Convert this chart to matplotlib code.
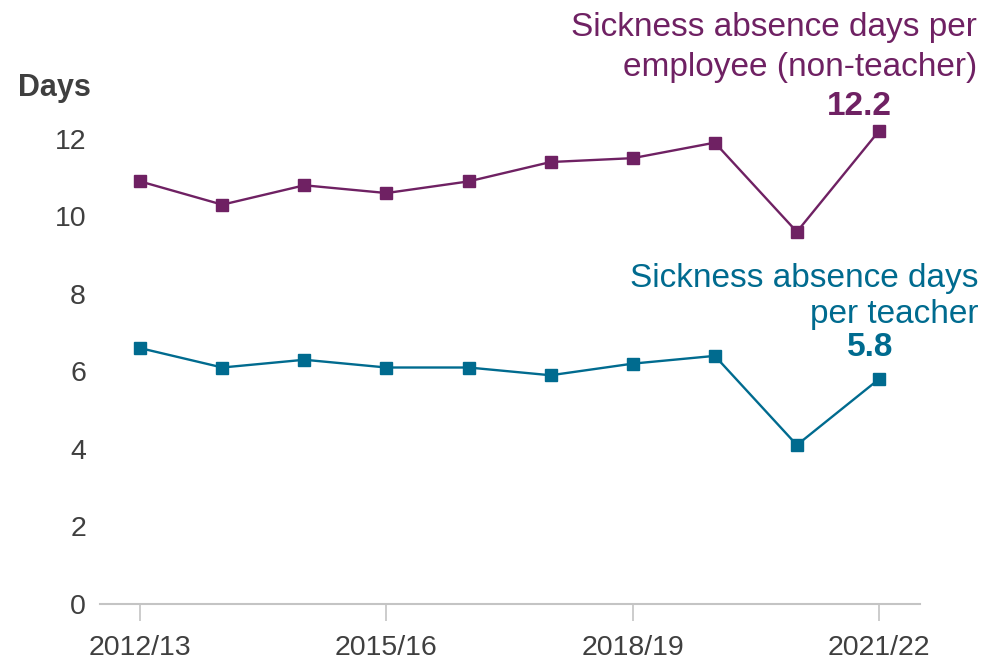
import numpy as np
from matplotlib import pyplot as plt

years = ['2012/13', '2013/14', '2014/15', '2015/16', '2016/17',
         '2017/18', '2018/19', '2019/20', '2020/21', '2021/22']
non_teacher = [10.9, 10.3, 10.8, 10.6, 10.9, 11.4, 11.5, 11.9, 9.6, 12.2]
teacher = [6.6, 6.1, 6.3, 6.1, 6.1, 5.9, 6.2, 6.4, 4.1, 5.8]
yticks = [0, 2, 4, 6, 8, 10, 12]
shown_years = [0, 3, 6, 9]

purple = '#6f2163'
teal = '#006b8f'
grey = '#3f3f3f'

plt.rcParams['font.family'] = ['Liberation Sans', 'DejaVu Sans']

W, H = 999, 664
fig = plt.figure(figsize=(W / 100, H / 100), dpi=100)
ax = fig.add_axes([100 / W, (H - 604) / H, 820 / W, 504 / H])

x = np.arange(len(years))
ax.plot(x, non_teacher, color=purple, lw=1.7, marker='s', ms=8, clip_on=False)
ax.plot(x, teacher, color=teal, lw=1.7, marker='s', ms=8, clip_on=False)

ax.set_xlim(-0.49, 9.5)
ax.set_ylim(0, 13)
ax.set_yticks(yticks)
ax.set_xticks(shown_years)
ax.set_xticklabels([years[i] for i in shown_years])
ax.tick_params(axis='y', length=0, pad=10, labelsize=20.5, labelcolor=grey)
ax.tick_params(axis='x', length=12, width=1.2, color='#c4c4c4', pad=10,
               labelsize=20.5, labelcolor=grey)
for s in ['top', 'right', 'left']:
    ax.spines[s].set_visible(False)
ax.spines['bottom'].set_color('#c4c4c4')
ax.spines['bottom'].set_linewidth(1.5)

def ftext(px, py, s, **kw):
    fig.text(px / W, 1 - py / H, s, va='baseline', **kw)

ftext(18, 96, 'Days', fontsize=22, fontweight='bold', color=grey, ha='left')
ftext(977, 36, 'Sickness absence days per', fontsize=24, color=purple, ha='right')
ftext(977, 76, 'employee (non-teacher)', fontsize=24, color=purple, ha='right')
ftext(892, 115, '12.2', fontsize=24, fontweight='bold', color=purple, ha='right')
ftext(978, 287, 'Sickness absence days', fontsize=24, color=teal, ha='right')
ftext(978, 323, 'per teacher', fontsize=24, color=teal, ha='right')
ftext(893, 356, '5.8', fontsize=24, fontweight='bold', color=teal, ha='right')

plt.savefig('out.png', dpi=100)
